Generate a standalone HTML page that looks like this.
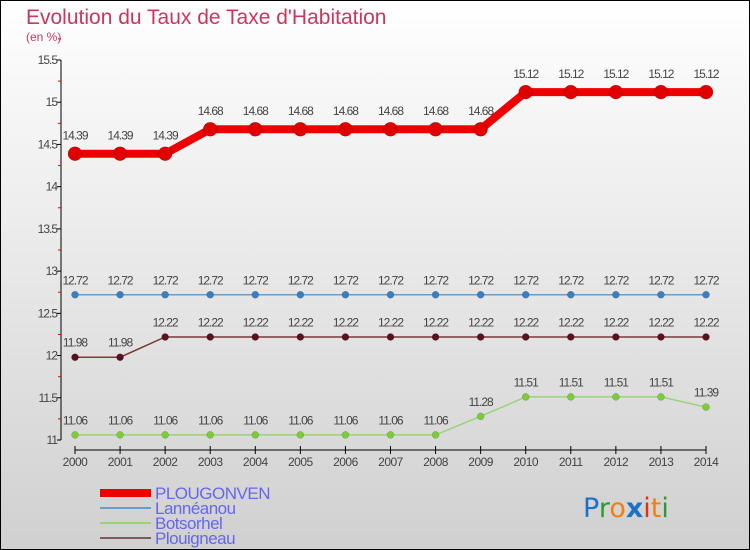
<!DOCTYPE html>
<html><head><meta charset="utf-8"><style>
body{margin:0;}
#c{width:750px;height:550px;position:relative;overflow:hidden;}
</style></head><body>
<div id="c">
<svg id="s" width="750" height="550" xmlns="http://www.w3.org/2000/svg" font-family="'Liberation Sans', sans-serif">
<defs>
<linearGradient id="bg" x1="0" y1="0" x2="0" y2="1"><stop offset="0" stop-color="#ffffff"/><stop offset="1" stop-color="#d0d0d0"/></linearGradient>
</defs>
<rect x="0.5" y="0.5" width="749" height="549" fill="url(#bg)" stroke="#000"/>
<text x="26" y="24" font-size="21" fill="#c8385e">Evolution du Taux de Taxe d'Habitation</text>
<text x="26" y="41" font-size="12" fill="#c8385e">(en %)</text>
<g id="axes"></g>
<g id="series"></g>
<g id="legend"></g>
<text x="583" y="517" font-size="27" font-family="'DejaVu Sans', sans-serif"><tspan fill="#1a73c8">P</tspan><tspan fill="#2a9a3a">r</tspan><tspan fill="#f08010">o</tspan><tspan fill="#1a73c8" font-weight="bold">x</tspan><tspan fill="#e03010">i</tspan><tspan fill="#f08010">t</tspan><tspan fill="#2a9a3a">i</tspan></text>
</svg>
</div>
<script>
const years=[2000,2001,2002,2003,2004,2005,2006,2007,2008,2009,2010,2011,2012,2013,2014];
const plougonven=[14.39,14.39,14.39,14.68,14.68,14.68,14.68,14.68,14.68,14.68,15.12,15.12,15.12,15.12,15.12];
const lanneanou=[12.72,12.72,12.72,12.72,12.72,12.72,12.72,12.72,12.72,12.72,12.72,12.72,12.72,12.72,12.72];
const botsorhel=[11.06,11.06,11.06,11.06,11.06,11.06,11.06,11.06,11.06,11.28,11.51,11.51,11.51,11.51,11.39];
const plouigneau=[11.98,11.98,12.22,12.22,12.22,12.22,12.22,12.22,12.22,12.22,12.22,12.22,12.22,12.22,12.22];
const yTicks=["11","11.5","12","12.5","13","13.5","14","14.5","15","15.5"];
const NS="http://www.w3.org/2000/svg";
function X(i){return 75+i*(706-75)/(years.length-1);}
function Y(v){return 440-(v-11)*(380/4.5);}
function mk(t,a,p){const e=document.createElementNS(NS,t);for(const k in a)e.setAttribute(k,a[k]);p.appendChild(e);return e;}
const ax=document.getElementById('axes');
let e=mk('line',{x1:61,y1:60,x2:61,y2:440,stroke:'#000','stroke-width':1},ax);


yTicks.forEach(t=>{const v=parseFloat(t),y=Y(v);
 mk('line',{x1:57,y1:y,x2:61,y2:y,stroke:'#000'},ax);
 mk('line',{x1:58,y1:Y(v+0.25),x2:61,y2:Y(v+0.25),stroke:'#e00'},ax);
 const tx=mk('text',{x:57,y:y+4,'text-anchor':'end','font-size':12,fill:'#444','letter-spacing':'-1'},ax);tx.textContent=t;
 
 
});
e=mk('line',{x1:75,y1:450,x2:706,y2:450,stroke:'#000'},ax);


years.forEach((yr,i)=>{mk('line',{x1:X(i),y1:446,x2:X(i),y2:454,stroke:'#000'},ax);
 const tx=mk('text',{x:X(i),y:466,'text-anchor':'middle','font-size':12,fill:'#444','letter-spacing':'-0.5'},ax);tx.textContent=yr;
 
 
});
const sg=document.getElementById('series');
const series=[
 {name:'Lannéanou',d:lanneanou,c:'#6a9cc8',dot:'#3a7fc0',w:1.5,r:3.5},
 {name:'Botsorhel',d:botsorhel,c:'#9ad27a',dot:'#7ccc3a',w:1.5,r:3.5},
 {name:'Plouigneau',d:plouigneau,c:'#7a3a3a',dot:'#5a1020',w:1.5,r:3.5},
 {name:'PLOUGONVEN',d:plougonven,c:'#ee0000',dot:'#e00000',w:8,r:7}
];
series.forEach(s=>{
 const g=mk('g',{},sg);
 
 
 mk('polyline',{points:s.d.map((v,i)=>X(i)+','+Y(v)).join(' '),fill:'none',stroke:s.c,'stroke-width':s.w},g);
 s.d.forEach((v,i)=>{const c=mk('circle',{cx:X(i),cy:Y(v),r:s.r,fill:s.dot,stroke:'rgba(0,0,0,0.25)','stroke-width':0.5},g);
  
  
  const t=mk('text',{x:X(i),y:Y(v)-(s.r+7),'text-anchor':'middle','font-size':12,fill:'#444','letter-spacing':'-1'},g);
  t.textContent=String(v);
  
  
 });
});
const lg=document.getElementById('legend');
const leg=[['PLOUGONVEN','#ee0000',8],['Lannéanou','#6a9cc8',2],['Botsorhel','#9ad27a',2],['Plouigneau','#7a5a5a',2]];
leg.forEach((l,i)=>{const y=493+i*15;
 const g=mk('g',{},lg);
 
 
 mk('line',{x1:100,y1:y,x2:151,y2:y,stroke:l[1],'stroke-width':l[2]},g);
 const t=mk('text',{x:155,y:y+6,'font-size':17,fill:'#6666ee','letter-spacing':'-0.5'},g);t.textContent=l[0];
});
</script>
</body></html>
